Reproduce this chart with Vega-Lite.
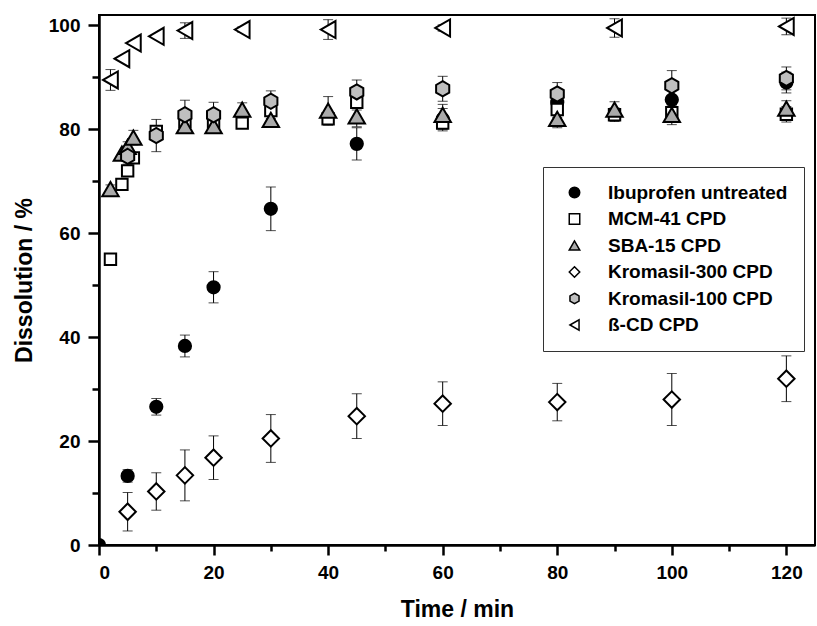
{
  "$schema": "https://vega.github.io/schema/vega-lite/v6.json",
  "width": 716,
  "height": 530,
  "autosize": "none",
  "padding": {"left": 99, "top": 15, "right": 2, "bottom": 81},
  "background": "white",
  "config": {
    "font": "Liberation Sans",
    "view": {"stroke": "black", "strokeWidth": 2},
    "axis": {
      "grid": false,
      "domainColor": "black",
      "domainWidth": 2.5,
      "tickColor": "black",
      "tickWidth": 2.5,
      "labelFont": "Liberation Sans",
      "labelFontWeight": "bold",
      "labelFontSize": 19,
      "labelColor": "black",
      "titleFont": "Liberation Sans",
      "titleFontWeight": "bold",
      "titleFontSize": 23,
      "titleColor": "black"
    },
    "legend": {
      "labelFont": "Liberation Sans",
      "labelFontWeight": "bold",
      "labelFontSize": 19,
      "labelColor": "black",
      "labelLimit": 400
    }
  },
  "data": {
    "values": [
      {"s": "Ibuprofen untreated", "t": 0, "v": 0, "lo": null, "hi": null},
      {"s": "Ibuprofen untreated", "t": 5, "v": 13.3, "lo": 12.1, "hi": 14.5},
      {"s": "Ibuprofen untreated", "t": 10, "v": 26.6, "lo": 25.0, "hi": 28.2},
      {"s": "Ibuprofen untreated", "t": 15, "v": 38.3, "lo": 36.2, "hi": 40.4},
      {"s": "Ibuprofen untreated", "t": 20, "v": 49.6, "lo": 46.6, "hi": 52.6},
      {"s": "Ibuprofen untreated", "t": 30, "v": 64.7, "lo": 60.5, "hi": 68.9},
      {"s": "Ibuprofen untreated", "t": 45, "v": 77.2, "lo": 74.1, "hi": 80.3},
      {"s": "Ibuprofen untreated", "t": 60, "v": 82.0, "lo": 80.0, "hi": 84.0},
      {"s": "Ibuprofen untreated", "t": 80, "v": 85.2, "lo": 83.2, "hi": 87.2},
      {"s": "Ibuprofen untreated", "t": 100, "v": 85.7, "lo": 83.7, "hi": 87.7},
      {"s": "Ibuprofen untreated", "t": 120, "v": 89.0, "lo": 87.0, "hi": 91.0},
      {"s": "MCM-41 CPD", "t": 2, "v": 55.0, "lo": null, "hi": null},
      {"s": "MCM-41 CPD", "t": 4, "v": 69.4, "lo": null, "hi": null},
      {"s": "MCM-41 CPD", "t": 5, "v": 72.0, "lo": null, "hi": null},
      {"s": "MCM-41 CPD", "t": 6, "v": 74.5, "lo": null, "hi": null},
      {"s": "MCM-41 CPD", "t": 10, "v": 79.6, "lo": 78.6, "hi": 80.6},
      {"s": "MCM-41 CPD", "t": 15, "v": 81.5, "lo": 80.0, "hi": 83.0},
      {"s": "MCM-41 CPD", "t": 20, "v": 81.4, "lo": 80.4, "hi": 82.4},
      {"s": "MCM-41 CPD", "t": 25, "v": 81.2, "lo": 80.2, "hi": 82.2},
      {"s": "MCM-41 CPD", "t": 30, "v": 83.6, "lo": 82.1, "hi": 85.1},
      {"s": "MCM-41 CPD", "t": 40, "v": 82.0, "lo": 80.8, "hi": 83.2},
      {"s": "MCM-41 CPD", "t": 45, "v": 85.2, "lo": 83.7, "hi": 86.7},
      {"s": "MCM-41 CPD", "t": 60, "v": 81.2, "lo": 79.7, "hi": 82.7},
      {"s": "MCM-41 CPD", "t": 80, "v": 83.8, "lo": 82.3, "hi": 85.3},
      {"s": "MCM-41 CPD", "t": 90, "v": 82.8, "lo": 81.5, "hi": 84.1},
      {"s": "MCM-41 CPD", "t": 100, "v": 83.2, "lo": 81.7, "hi": 84.7},
      {"s": "MCM-41 CPD", "t": 120, "v": 82.9, "lo": 81.4, "hi": 84.4},
      {"s": "SBA-15 CPD", "t": 2, "v": 68.5, "lo": 67.7, "hi": 69.3},
      {"s": "SBA-15 CPD", "t": 4, "v": 75.3, "lo": null, "hi": null},
      {"s": "SBA-15 CPD", "t": 5, "v": 76.6, "lo": 75.6, "hi": 77.6},
      {"s": "SBA-15 CPD", "t": 6, "v": 78.4, "lo": 77.0, "hi": 79.8},
      {"s": "SBA-15 CPD", "t": 15, "v": 80.6, "lo": 79.4, "hi": 81.8},
      {"s": "SBA-15 CPD", "t": 20, "v": 80.6, "lo": 79.6, "hi": 81.6},
      {"s": "SBA-15 CPD", "t": 25, "v": 83.8, "lo": 82.5, "hi": 85.1},
      {"s": "SBA-15 CPD", "t": 30, "v": 81.8, "lo": 80.5, "hi": 83.1},
      {"s": "SBA-15 CPD", "t": 40, "v": 83.6, "lo": 80.9, "hi": 86.3},
      {"s": "SBA-15 CPD", "t": 45, "v": 82.5, "lo": 80.5, "hi": 84.5},
      {"s": "SBA-15 CPD", "t": 60, "v": 82.8, "lo": 80.8, "hi": 84.8},
      {"s": "SBA-15 CPD", "t": 80, "v": 82.0, "lo": 80.3, "hi": 83.7},
      {"s": "SBA-15 CPD", "t": 90, "v": 83.8, "lo": 82.3, "hi": 85.3},
      {"s": "SBA-15 CPD", "t": 100, "v": 82.8, "lo": 80.9, "hi": 84.7},
      {"s": "SBA-15 CPD", "t": 120, "v": 84.0, "lo": 82.5, "hi": 85.5},
      {"s": "Kromasil-300 CPD", "t": 5, "v": 6.4, "lo": 2.7, "hi": 10.1},
      {"s": "Kromasil-300 CPD", "t": 10, "v": 10.3, "lo": 6.7, "hi": 13.9},
      {"s": "Kromasil-300 CPD", "t": 15, "v": 13.4, "lo": 8.5, "hi": 18.3},
      {"s": "Kromasil-300 CPD", "t": 20, "v": 16.8, "lo": 12.6, "hi": 21.0},
      {"s": "Kromasil-300 CPD", "t": 30, "v": 20.5, "lo": 15.9, "hi": 25.1},
      {"s": "Kromasil-300 CPD", "t": 45, "v": 24.8, "lo": 20.5, "hi": 29.1},
      {"s": "Kromasil-300 CPD", "t": 60, "v": 27.2, "lo": 23.0, "hi": 31.4},
      {"s": "Kromasil-300 CPD", "t": 80, "v": 27.5, "lo": 23.9, "hi": 31.1},
      {"s": "Kromasil-300 CPD", "t": 100, "v": 28.0, "lo": 23.0, "hi": 33.0},
      {"s": "Kromasil-300 CPD", "t": 120, "v": 32.0, "lo": 27.6, "hi": 36.4},
      {"s": "Kromasil-100 CPD", "t": 5, "v": 74.8, "lo": 73.3, "hi": 76.3},
      {"s": "Kromasil-100 CPD", "t": 10, "v": 78.8, "lo": 75.7, "hi": 81.9},
      {"s": "Kromasil-100 CPD", "t": 15, "v": 82.8, "lo": 80.0, "hi": 85.6},
      {"s": "Kromasil-100 CPD", "t": 20, "v": 82.8, "lo": 80.4, "hi": 85.2},
      {"s": "Kromasil-100 CPD", "t": 30, "v": 85.4, "lo": 83.4, "hi": 87.4},
      {"s": "Kromasil-100 CPD", "t": 45, "v": 87.2, "lo": 84.9, "hi": 89.5},
      {"s": "Kromasil-100 CPD", "t": 60, "v": 87.8, "lo": 85.4, "hi": 90.2},
      {"s": "Kromasil-100 CPD", "t": 80, "v": 86.8, "lo": 84.6, "hi": 89.0},
      {"s": "Kromasil-100 CPD", "t": 100, "v": 88.4, "lo": 85.5, "hi": 91.3},
      {"s": "Kromasil-100 CPD", "t": 120, "v": 89.8, "lo": 87.6, "hi": 92.0},
      {"s": "ß-CD CPD", "t": 2, "v": 89.5, "lo": 87.5, "hi": 91.5},
      {"s": "ß-CD CPD", "t": 4, "v": 93.6, "lo": null, "hi": null},
      {"s": "ß-CD CPD", "t": 6, "v": 96.6, "lo": null, "hi": null},
      {"s": "ß-CD CPD", "t": 10, "v": 97.9, "lo": null, "hi": null},
      {"s": "ß-CD CPD", "t": 15, "v": 99.0, "lo": 97.5, "hi": 100.5},
      {"s": "ß-CD CPD", "t": 25, "v": 99.2, "lo": 98.7, "hi": 99.7},
      {"s": "ß-CD CPD", "t": 40, "v": 99.2, "lo": 97.3, "hi": 101.1},
      {"s": "ß-CD CPD", "t": 60, "v": 99.5, "lo": 98.9, "hi": 100.1},
      {"s": "ß-CD CPD", "t": 90, "v": 99.5, "lo": 97.7, "hi": 101.3},
      {"s": "ß-CD CPD", "t": 120, "v": 99.8, "lo": 98.2, "hi": 101.4}
    ]
  },
  "encoding": {
    "x": {
      "field": "t",
      "type": "quantitative",
      "scale": {"domain": [0, 125], "nice": false, "zero": false},
      "axis": {
        "title": "Time / min",
        "values": [0, 10, 20, 30, 40, 50, 60, 70, 80, 90, 100, 110, 120],
        "labelExpr": "datum.value % 20 === 0 ? datum.label : ''",
        "tickSize": {"condition": {"test": "datum.value % 20 === 0", "value": 10}, "value": 6},
        "labelPadding": 8,
        "titlePadding": 16
      }
    }
  },
  "layer": [
    {
      "transform": [{"filter": "datum.lo != null"}],
      "mark": {"type": "rule", "color": "black", "strokeWidth": 1},
      "encoding": {
        "y": {"field": "lo", "type": "quantitative", "scale": {"domain": [0, 102], "nice": false}},
        "y2": {"field": "hi"}
      }
    },
    {
      "transform": [{"filter": "datum.lo != null"}],
      "mark": {"type": "tick", "orient": "horizontal", "color": "black", "size": 10, "thickness": 1},
      "encoding": {
        "y": {"field": "lo", "type": "quantitative"}
      }
    },
    {
      "transform": [{"filter": "datum.lo != null"}],
      "mark": {"type": "tick", "orient": "horizontal", "color": "black", "size": 10, "thickness": 1},
      "encoding": {
        "y": {"field": "hi", "type": "quantitative"}
      }
    },
    {
      "mark": {"type": "point", "filled": true, "stroke": "black", "strokeWidth": 2, "opacity": 1, "clip": true},
      "encoding": {
        "y": {
          "field": "v",
          "type": "quantitative",
          "scale": {"domain": [0, 102], "nice": false},
          "axis": {
            "title": "Dissolution / %",
            "values": [0, 10, 20, 30, 40, 50, 60, 70, 80, 90, 100],
            "labelExpr": "datum.value % 20 === 0 ? datum.label : ''",
            "tickSize": {"condition": {"test": "datum.value % 20 === 0", "value": 11}, "value": 7},
            "labelPadding": 8,
            "titlePadding": 12
          }
        },
        "shape": {
          "field": "s",
          "type": "nominal",
          "sort": null,
          "scale": {
            "domain": ["Ibuprofen untreated", "MCM-41 CPD", "SBA-15 CPD", "Kromasil-300 CPD", "Kromasil-100 CPD", "ß-CD CPD"],
            "range": ["circle", "square", "triangle-up", "diamond", "M0,-1L0.866,-0.5L0.866,0.5L0,1L-0.866,0.5L-0.866,-0.5Z", "triangle-left"]
          },
          "legend": {
            "title": null,
            "orient": "none",
            "legendX": 444,
            "legendY": 152,
            "padding": 16,
            "strokeColor": "#333333",
            "fillColor": "white",
            "symbolSize": 110,
            "symbolOffset": 6,
            "labelOffset": 24,
            "rowPadding": 6.5,
            "encode": {"symbols": {"update": {"stroke": {"value": "black"}, "strokeWidth": {"value": 2}}}}
          }
        },
        "fill": {
          "field": "s",
          "type": "nominal",
          "sort": null,
          "scale": {
            "domain": ["Ibuprofen untreated", "MCM-41 CPD", "SBA-15 CPD", "Kromasil-300 CPD", "Kromasil-100 CPD", "ß-CD CPD"],
            "range": ["black", "white", "#aaaaaa", "white", "#bfbfbf", "white"]
          },
          "legend": {
            "title": null,
            "orient": "none",
            "legendX": 444,
            "legendY": 152,
            "padding": 16,
            "strokeColor": "#333333",
            "fillColor": "white",
            "symbolSize": 110,
            "symbolOffset": 6,
            "labelOffset": 24,
            "rowPadding": 6.5,
            "encode": {"symbols": {"update": {"stroke": {"value": "black"}, "strokeWidth": {"value": 2}}}}
          }
        },
        "size": {
          "condition": [
            {"test": "datum.s === 'Ibuprofen untreated'", "value": 150},
            {"test": "datum.s === 'MCM-41 CPD'", "value": 130},
            {"test": "datum.s === 'SBA-15 CPD'", "value": 270},
            {"test": "datum.s === 'Kromasil-300 CPD'", "value": 270},
            {"test": "datum.s === 'Kromasil-100 CPD'", "value": 230}
          ],
          "value": 290
        }
      }
    }
  ]
}
